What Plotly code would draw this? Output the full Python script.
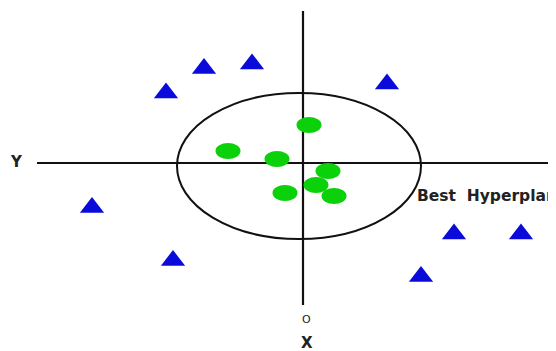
import plotly.graph_objects as go

# class A: outliers (blue triangles)
tri_x = [-137, -99, -51, 84, -211, -130, 151, 218, 118]
tri_y = [70, 94.5, 99, 79, -44.5, -97.5, -71, -71, -113.5]

# class B: inliers (green dots)
dot_x = [6, -75, -26, 25, 13, -18, 31]
dot_y = [38, 12, 4, -8, -22, -30, -33]

# boundary ellipse: centre and radii
hyper_cx, hyper_cy = -4, -3
hyper_rx, hyper_ry = 122, 73

# page body has an 8px margin, so the drawing area starts 8px in
X_RANGE = [-295, 253]
Y_RANGE = [-188, 155]

fig = go.Figure()

shapes = []
# axes
shapes.append(dict(type="line", x0=-266, x1=253, y0=0, y1=0,
                   line=dict(color="#111111", width=2.2), layer="below"))
shapes.append(dict(type="line", x0=0, x1=0, y0=152, y1=-142,
                   line=dict(color="#111111", width=2.2), layer="below"))
# best hyperplane
shapes.append(dict(type="circle",
                   x0=hyper_cx - hyper_rx, x1=hyper_cx + hyper_rx,
                   y0=hyper_cy - hyper_ry, y1=hyper_cy + hyper_ry,
                   line=dict(color="#111111", width=2), layer="below"))
# green ellipses
for x, y in zip(dot_x, dot_y):
    shapes.append(dict(type="circle", x0=x - 12.5, x1=x + 12.5,
                       y0=y - 8, y1=y + 8,
                       fillcolor="#0ad10a", line=dict(width=0)))

fig.add_trace(go.Scatter(
    x=tri_x, y=tri_y, mode="markers",
    marker=dict(symbol="triangle-up", size=21, color="#0a0adb",
                line=dict(width=0)),
    hoverinfo="skip", showlegend=False,
))

font = dict(family="DejaVu Sans, sans-serif", color="#222222")
fig.add_annotation(x=-287, y=1, text="<b>Y</b>", showarrow=False,
                   font=dict(size=15, **font))
fig.add_annotation(x=4, y=-180, text="<b>X</b>", showarrow=False,
                   font=dict(size=15, **font))
fig.add_annotation(x=3, y=-156, text="O", showarrow=False,
                   font=dict(size=11, **font))
fig.add_annotation(x=112, y=-33, text="<b>Best  Hyperplane</b>", showarrow=False,
                   xanchor="left", font=dict(size=15.5, **font))

fig.update_layout(
    width=548, height=343,
    margin=dict(l=0, r=0, t=0, b=0),
    paper_bgcolor="white", plot_bgcolor="white",
    shapes=shapes,
    xaxis=dict(range=X_RANGE, visible=False, fixedrange=True),
    yaxis=dict(range=Y_RANGE, visible=False, fixedrange=True),
)

fig.write_html("out.html")
